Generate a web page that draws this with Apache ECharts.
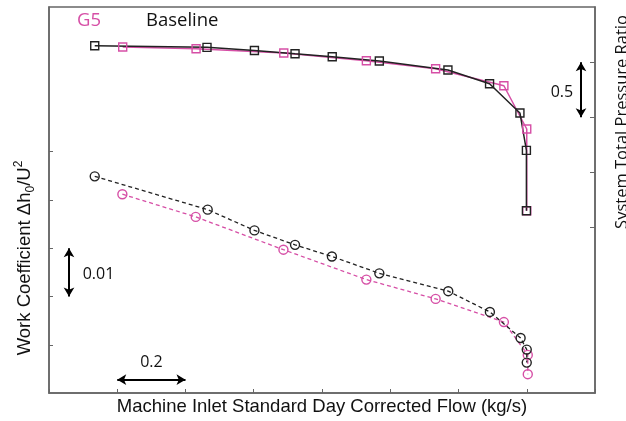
<!DOCTYPE html>
<html>
<head>
<meta charset="utf-8">
<script src="https://cdn.jsdelivr.net/npm/echarts@6/dist/echarts.min.js"></script>
<style>
  html, body { margin: 0; padding: 0; background: #fff; }
  #chart { width: 626px; height: 421px; }
</style>
</head>
<body>
<div id="chart"></div>
<script>
// flow (kg/s, offset) and values
const baseFlow = [0.134, 0.463, 0.602, 0.721, 0.830, 0.968, 1.169, 1.291, 1.380, 1.399, 1.399]
const basePR = [4.149, 4.134, 4.106, 4.076, 4.049, 4.010, 3.929, 3.804, 3.539, 3.200, 2.653]
const baseFlowW = [0.134, 0.465, 0.602, 0.721, 0.829, 0.968, 1.170, 1.292, 1.382, 1.400, 1.400]
const baseWork = [0.4449, 0.4380, 0.4337, 0.4307, 0.4283, 0.4248, 0.4211, 0.4168, 0.4114, 0.4090, 0.4063]

const g5Flow = [0.216, 0.431, 0.688, 0.930, 1.133, 1.333, 1.400, 1.400]
const g5PR = [4.137, 4.122, 4.083, 4.013, 3.940, 3.786, 3.394, 2.653]
const g5FlowW = [0.215, 0.430, 0.687, 0.930, 1.133, 1.333, 1.403, 1.403]
const g5Work = [0.4412, 0.4365, 0.4297, 0.4235, 0.4195, 0.4147, 0.4079, 0.4039]

const workTicks = [0.41, 0.42, 0.43, 0.44, 0.45]
const prTicks = [2.5, 3.0, 3.5, 4.0]

const black = '#222222'
const pink = '#d64fa6'
const frame = '#666666'

const pairs = (xs, ys) => xs.map((x, i) => [x, ys[i]])

const chart = echarts.init(document.getElementById('chart'))

const hollow = (c) => ({ color: 'rgba(0,0,0,0)', borderColor: c, borderWidth: 1.4 })
const txt = (s) => ({ show: true, position: 'inside', formatter: s, color: '#111', fontSize: 16, fontFamily: 'Open Sans' })

chart.setOption({
  animation: false,
  grid: { left: 49, right: 31, top: 7, bottom: 28, containLabel: false, outerBoundsMode: 'none', show: true, borderColor: frame, borderWidth: 1.5 },
  xAxis: {
    type: 'value', min: 0, max: 1.6, interval: 0.2,
    name: 'Machine Inlet Standard Day Corrected Flow (kg/s)',
    nameLocation: 'middle', nameGap: 4,
    nameTextStyle: { fontSize: 18.5, color: '#111', fontFamily: 'Liberation Sans' },
    axisLine: { lineStyle: { color: frame, width: 1.5 } },
    axisTick: { inside: true, length: 4, lineStyle: { color: frame } },
    axisLabel: { show: false },
    splitLine: { show: false },
  },
  yAxis: [
    {
      type: 'value', min: 0.40, max: 0.48, interval: 0.01, position: 'left',
      axisLine: { show: true, lineStyle: { color: frame, width: 1.5 } },
      axisTick: { show: true, inside: true, length: 4, customValues: workTicks, lineStyle: { color: frame } },
      axisLabel: { show: false },
      splitLine: { show: false },
    },
    {
      type: 'value', min: 1.0, max: 4.5, interval: 0.5, position: 'right',
      axisLine: { show: true, lineStyle: { color: frame, width: 1.5 } },
      axisTick: { show: true, inside: true, length: 5, customValues: prTicks, lineStyle: { color: frame } },
      axisLabel: { show: false },
      splitLine: { show: false },
    },
  ],
  graphic: [
    { type: 'text', left: 77, top: 11, style: { text: 'G5', fill: pink, fontSize: 18.5, fontFamily: 'Open Sans' } },
    { type: 'text', left: 146, top: 11, style: { text: 'Baseline', fill: '#111', fontSize: 18.5, fontFamily: 'Open Sans' } },
    {
      type: 'text', x: 25, y: 258, rotation: Math.PI / 2,
      style: {
        text: '{a|Work Coefficient Δh}{sub|0}{a|/U}{sup|2}',
        align: 'center', verticalAlign: 'middle', fill: '#111',
        rich: {
          a: { fontSize: 18.5, fontFamily: 'Liberation Sans', lineHeight: 24, fill: '#111' },
          sub: { fontSize: 12, fontFamily: 'Liberation Sans', verticalAlign: 'bottom', lineHeight: 24, fill: '#111' },
          sup: { fontSize: 12, fontFamily: 'Liberation Sans', verticalAlign: 'top', lineHeight: 24, fill: '#111' },
        },
      },
    },
    {
      type: 'text', x: 622, y: 122, rotation: Math.PI / 2,
      style: { text: 'System Total Pressure Ratio', align: 'center', verticalAlign: 'middle', fill: '#111', fontSize: 16.5, fontFamily: 'Open Sans' },
    },
  ],
  series: [
    {
      name: 'G5 PR', type: 'line', yAxisIndex: 1, data: pairs(g5Flow, g5PR),
      symbol: 'rect', symbolSize: 8, itemStyle: hollow(pink),
      lineStyle: { color: pink, width: 1.5 },
    },
    {
      name: 'Baseline PR', type: 'line', yAxisIndex: 1, data: pairs(baseFlow, basePR),
      symbol: 'rect', symbolSize: 8, itemStyle: hollow(black),
      lineStyle: { color: black, width: 1.5 },
      markLine: {
        silent: true, symbol: ['arrow', 'arrow'], symbolSize: [8, 9],
        label: { show: false },
        lineStyle: { color: '#000', width: 2, type: 'solid' },
        data: [[{ coord: [1.559, 4.0] }, { coord: [1.559, 3.5] }]],
      },
      markPoint: {
        silent: true, symbol: 'circle', symbolSize: 0,
        data: [{ coord: [1.503, 3.723], label: txt('0.5') }],
      },
    },
    {
      name: 'G5 work', type: 'line', yAxisIndex: 0, data: pairs(g5FlowW, g5Work),
      symbol: 'circle', symbolSize: 9, itemStyle: hollow(pink),
      lineStyle: { color: pink, width: 1.3, type: [4, 3] },
    },
    {
      name: 'Baseline work', type: 'line', yAxisIndex: 0, data: pairs(baseFlowW, baseWork),
      symbol: 'circle', symbolSize: 9, itemStyle: hollow(black),
      lineStyle: { color: black, width: 1.3, type: [4, 3] },
      markLine: {
        silent: true, symbol: ['arrow', 'arrow'], symbolSize: [8, 9],
        label: { show: false },
        lineStyle: { color: '#000', width: 2, type: 'solid' },
        data: [
          [{ coord: [0.2, 0.40276] }, { coord: [0.4, 0.40276] }],
          [{ coord: [0.0586, 0.43] }, { coord: [0.0586, 0.42] }],
        ],
      },
      markPoint: {
        silent: true, symbol: 'circle', symbolSize: 0,
        data: [
          { coord: [0.3, 0.40628], label: txt('0.2') },
          { coord: [0.145, 0.42452], label: txt('0.01') },
        ],
      },
    },
  ],
})
</script>
</body>
</html>
